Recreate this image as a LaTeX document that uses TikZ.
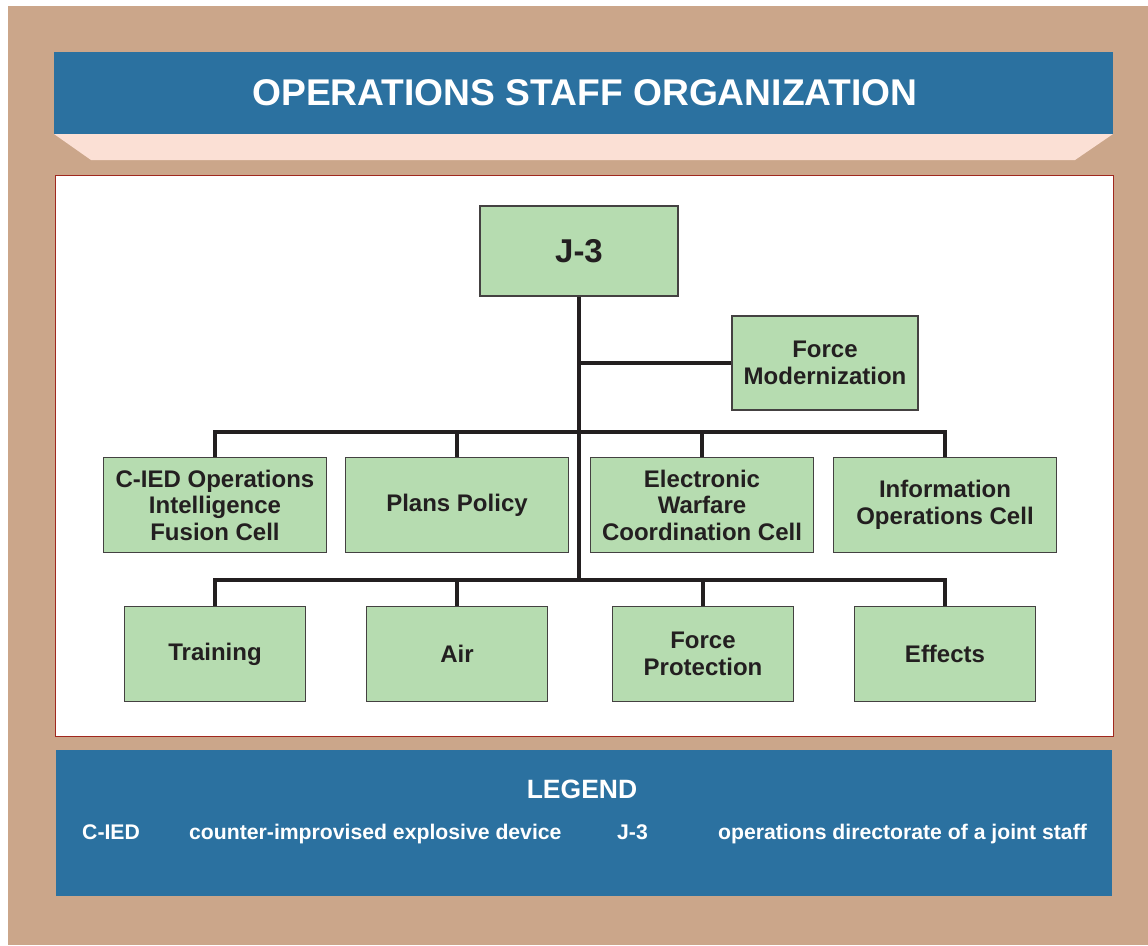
\documentclass[tikz,border=0pt]{standalone}
\usepackage{fontspec}
\setmainfont{Liberation Sans}
\definecolor{frame}{RGB}{203,166,138}
\definecolor{bar}{RGB}{43,113,160}
\definecolor{blush}{RGB}{251,224,213}
\definecolor{cell}{RGB}{182,220,176}
\definecolor{ink}{RGB}{35,31,32}
\definecolor{rim}{RGB}{160,40,30}

\begin{document}
\begin{tikzpicture}[
      x=1pt, y=-1pt,
      unit/.style={draw=ink!85, line width=1.3pt, fill=cell, align=center, text=ink,
        inner sep=0pt, font=\fontsize{24}{26.5}\selectfont\bfseries},
      wide/.style={unit, minimum width=223pt, minimum height=95pt},
      narrow/.style={unit, minimum width=181pt, minimum height=95pt},
      link/.style={draw=ink, line width=4pt},
      lgd/.style={anchor=base west, text=white, inner sep=0pt, font=\fontsize{21.2}{24}\selectfont\bfseries}
    ]
    \useasboundingbox (0,0) rectangle (1148,945);
    % frame, title bar and panels
    \fill[frame] (8,6) rectangle (1148,945);
    \fill[bar] (54,52) rectangle (1113,134);
    \fill[blush] (54,134) -- (1113,134) -- (1075,160) -- (91,160) -- cycle;
    \draw[rim, fill=white, line width=1pt] (55,175) rectangle (1113,736);
    \fill[bar] (56,750) rectangle (1112,896);
    \node[text=white, font=\fontsize{37.2}{40}\selectfont\bfseries] (title) at (585,93)
      {OPERATIONS STAFF ORGANIZATION};

    % chart
    \node[unit, minimum width=198pt, minimum height=90pt, font=\fontsize{33}{36}\selectfont\bfseries]
      (j3) at (579,251) {J-3};
    \node[unit, minimum width=186pt, minimum height=94pt] (fm) at (825,363) {Force\\Modernization};
    \node[wide] (cied) at (215,505) {C-IED Operations\\Intelligence\\Fusion Cell};
    \node[wide] (plans) at (457,505) {Plans Policy};
    \node[wide] (ewcc) at (702,505) {Electronic\\Warfare\\Coordination Cell};
    \node[wide] (info) at (945,505) {Information\\Operations Cell};
    \node[narrow] (training) at (215,654) {Training};
    \node[narrow] (air) at (457,654) {Air};
    \node[narrow] (fprot) at (703,654) {Force\\Protection};
    \node[narrow] (effects) at (945,654) {Effects};
    \coordinate (bus1) at (579,432);
    \coordinate (bus2) at (579,580);

    \draw[link] (j3.south) -- (bus2);
    \draw[link] (fm.west -| j3.south) -- (fm.west);
    \draw[link] (cied.north) |- (bus1) -| (info.north);
    \draw[link] (plans.north) -- (plans.north |- bus1);
    \draw[link] (ewcc.north) -- (ewcc.north |- bus1);
    \draw[link] (training.north) |- (bus2) -| (effects.north);
    \draw[link] (air.north) -- (air.north |- bus2);
    \draw[link] (fprot.north) -- (fprot.north |- bus2);

    % legend
    \node[text=white, font=\fontsize{26.5}{28}\selectfont\bfseries] (legend) at (582,789) {LEGEND};
    \node[lgd] (abbr1) at (82,839) {C-IED};
    \node[lgd] (desc1) at (189,839) {counter-improvised explosive device};
    \node[lgd] (abbr2) at (617,839) {J-3};
    \node[lgd] (desc2) at (718,839) {operations directorate of a joint staff};
  \end{tikzpicture}
\end{document}
